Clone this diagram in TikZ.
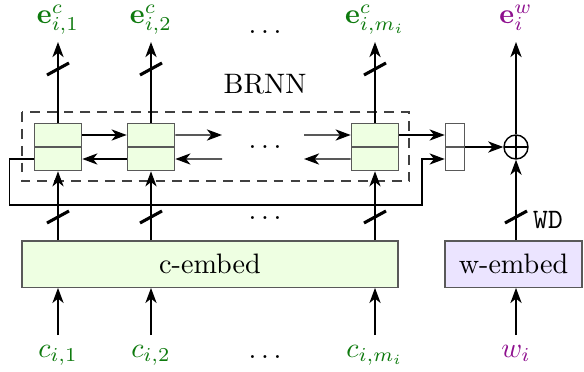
\documentclass[tikz,border=0pt]{standalone}
\usepackage{amsmath,amssymb}
\usepackage{xcolor}
\usetikzlibrary{arrows.meta, positioning, calc}
\definecolor{CellGreen}{HTML}{EEFFE2}
\definecolor{WordLilac}{HTML}{EBE4FF}
\definecolor{CharGreen}{HTML}{0E7A0E}
\definecolor{WordPurple}{HTML}{8E108E}
\tikzset{
  divider/.style={path picture={\draw[black!65] (path picture bounding box.west) -- (path picture bounding box.east);}},
  bus/.pic={\draw[line width=1.1pt] (-11,6) -- (11,-6);}
}

\begin{document}
\begin{tikzpicture}[x=0.0125cm, y=-0.0125cm, line width=0.5pt, >={Stealth[length=5.4pt, width=4pt, inset=1.6pt]},
  cell/.style={draw=black!65, fill=CellGreen, minimum width=0.59cm, minimum height=0.59cm, inner sep=0pt, divider},
  concat/.style={draw=black!65, minimum width=0.24cm, minimum height=0.59cm, inner sep=0pt, divider},
  plus/.style={circle, draw, minimum size=0.3cm, inner sep=0pt, path picture={\draw (path picture bounding box.north) -- (path picture bounding box.south) (path picture bounding box.west) -- (path picture bounding box.east);}},
  embed/.style={draw=black!65, minimum height=0.58cm, inner sep=0pt},
  toplab/.style={anchor=south, text depth=4pt, inner sep=2.4pt},
  botlab/.style={anchor=north, text height=5pt, inner sep=2.8pt}]
  \useasboundingbox (0,0) rectangle (584,371);

  % BRNN cells
  \node (c1) [cell] at (58,147) {};
  \node (c2) [cell] at (151,147) {};
  \node (cm) [cell] at (375,147) {};
  \node (cat) [concat] at (455,147) {};
  \node (plus) [plus] at (516,147) {};
  \draw[black!75, dash pattern=on 3.5pt off 2.5pt] (22,112) rectangle (409,181);
  \node (brnn) at (265,84) {BRNN};

  % embeddings
  \node (cemb) [embed, fill=CellGreen, minimum width=4.7cm] at (210,264) {c-embed};
  \node (wemb) [embed, fill=WordLilac, minimum width=1.71cm] at (513.5,264) {w-embed};

  % inputs and outputs
  \node (ci1) [botlab, text=CharGreen] at (58,335) {$c_{i,1}$};
  \node (ci2) [botlab, text=CharGreen] at (151,335) {$c_{i,2}$};
  \node (cim) [botlab, text=CharGreen] at (375,335) {$c_{i,m_i}$};
  \node (wi) [botlab, text=WordPurple] at (516,335) {$w_i$};
  \node (e1) [toplab, text=CharGreen] at (58,42) {$\mathbf{e}^{c}_{i,1}$};
  \node (e2) [toplab, text=CharGreen] at (151,42) {$\mathbf{e}^{c}_{i,2}$};
  \node (em) [toplab, text=CharGreen] at (375,42) {$\mathbf{e}^{c}_{i,m_i}$};
  \node (ew) [toplab, text=WordPurple] at (516,42) {$\mathbf{e}^{w}_{i}$};

  \node (dtop) at (265,32) {$\ldots$};
  \node (dmid) at (265,147) {$\ldots$};
  \node (dbus) at (265,218) {$\ldots$};
  \node (dbot) at (265,357) {$\ldots$};
  \node (wd) at (548,220) {\texttt{WD}};

  \coordinate (fwd2) at (222,135);
  \coordinate (bwd2) at (222,159);
  \coordinate (fwdm) at (304,135);
  \coordinate (bwdm) at (304,159);
  \coordinate (loop) at (422,205);

  \foreach \i in {1,2,m} {
    \draw[->] (ci\i.north) -- (cemb.south -| ci\i);
    \draw[->] (cemb.north -| c\i) -- (c\i.south);
    \draw[->] (c\i.north) -- (e\i.south);
  }
  \foreach \x in {58,151,375} {
    \pic at (\x,69) {bus};
    \pic at (\x,217) {bus};
  }
  \pic at (516,217) {bus};

  \draw[->] ([yshift=.15cm]c1.east) -- ([yshift=.15cm]c2.west);
  \draw[->] ([yshift=-.15cm]c2.west) -- ([yshift=-.15cm]c1.east);
  \draw[->] ([yshift=.15cm]c2.east) -- (fwd2);
  \draw[->] (bwd2) -- ([yshift=-.15cm]c2.east);
  \draw[->] (fwdm) -- ([yshift=.15cm]cm.west);
  \draw[->] ([yshift=-.15cm]cm.west) -- (bwdm);
  \draw[->] ([yshift=.15cm]cm.east) -- ([yshift=.15cm]cat.west);
  \draw[->] ([yshift=-.15cm]c1.west) -- ++(-24,0) |- (loop) |- ([yshift=-.15cm]cat.west);
  \draw[->] (cat.east) -- (plus.west);
  \draw[->] (wemb.north -| plus) -- (plus.south);
  \draw[->] (plus.north) -- (ew.south);
  \draw[->] (wi.north) -- (wemb.south -| wi);
\end{tikzpicture}
\end{document}
